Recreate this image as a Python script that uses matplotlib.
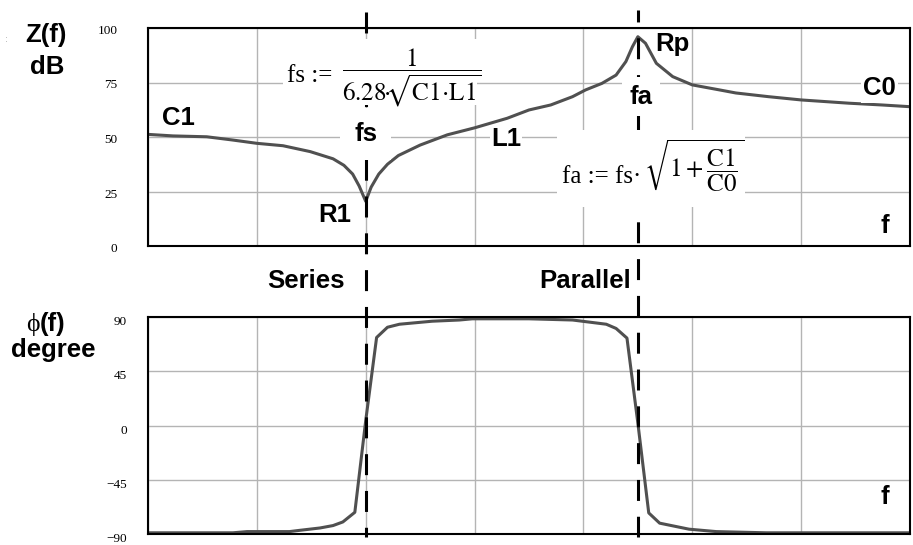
import matplotlib
matplotlib.use("Agg")
import matplotlib.pyplot as plt
from matplotlib.lines import Line2D
from matplotlib.patches import Rectangle
from matplotlib.transforms import blended_transform_factory, ScaledTranslation

# Quartz crystal impedance: magnitude (dB) and phase (degree) versus frequency
freq_mag = [0, 0.23, 0.54, 0.78, 1.0, 1.24, 1.49, 1.70, 1.80, 1.88, 1.94, 2.0,
            2.05, 2.12, 2.2, 2.3, 2.5, 2.75, 3.0, 3.3, 3.5, 3.7, 3.9, 4.02,
            4.17, 4.3, 4.39, 4.45, 4.5, 4.57, 4.67, 4.82, 5.0, 5.25, 5.4, 5.7,
            6.0, 6.44, 6.74, 7.0]
mag_db = [51.2, 50.5, 50.1, 48.6, 47.1, 46.0, 43.3, 40.0, 37.0, 33.0, 27.5, 20.5,
          27.0, 33.0, 37.5, 41.5, 46.3, 51.0, 54.2, 58.6, 62.4, 64.7, 68.5, 71.6,
          74.6, 78.4, 84.6, 91.4, 96.0, 93.0, 83.8, 77.7, 73.9, 71.6, 70.2, 68.5,
          67.0, 65.5, 64.7, 63.9]

freq_ph = [0, 0.78, 0.91, 1.30, 1.39, 1.58, 1.70, 1.79, 1.90, 2.0, 2.10, 2.20,
           2.31, 2.61, 2.86, 2.98, 3.50, 3.90, 4.21, 4.30, 4.40, 4.50, 4.60,
           4.70, 4.97, 5.22, 5.68, 7.0]
phase_deg = [-89, -89, -88, -88, -87, -85, -83, -80, -72, 4, 73, 81.5,
             84, 86.5, 87.5, 88.5, 88.5, 87.5, 84, 80.5, 72.5, 2, -72.5,
             -81, -86, -88, -89, -89]

fs_x = 2.0
fa_x = 4.5

mag_ticks = [0, 25, 50, 75, 100]
mag_labels = ["0", "25", "50", "75", "100"]
ph_ticks = [-90, -45, 0, 45, 90]
ph_labels = ["\u221290", "\u221245", "0", "45", "90"]

plt.rcParams["lines.scale_dashes"] = False
plt.rcParams["mathtext.fontset"] = "stix"

W, H = 913, 545
fig = plt.figure(figsize=(W / 100, H / 100), dpi=100)
fig.patch.set_facecolor("white")


def fx(px):
    return px / W


def fy(py):
    return 1 - py / H


ax1 = fig.add_axes([fx(148), fy(246), (910 - 148) / W, (246 - 28) / H], zorder=2)
ax2 = fig.add_axes([fx(148), fy(534), (910 - 148) / W, (534 - 317) / H], zorder=1)

CURVE = "#505050"
GRID = "#b4b4b4"
serif = ["Liberation Serif", "DejaVu Serif"]
sans = ["Liberation Sans", "DejaVu Sans"]
BOLD = 18.5
MATH = 18

for ax in (ax1, ax2):
    ax.set_xlim(0, 7)
    ax.set_xticks(range(8))
    ax.set_xticklabels([])
    ax.grid(True, color=GRID, lw=1.0)
    ax.set_axisbelow(True)
    ax.tick_params(length=0)
    for sp in ax.spines.values():
        sp.set_linewidth(1.5)
        sp.set_color("black")

ax1.set_ylim(0, 100)
ax1.set_yticks(mag_ticks)
ax1.set_yticklabels(mag_labels, family=serif, fontsize=9.5)
ax1.tick_params(axis="y", pad=22)
for lab in ax1.get_yticklabels():
    lab.set_transform(lab.get_transform() + ScaledTranslation(0, -1.5 / 100, fig.dpi_scale_trans))

ax2.set_ylim(-90, 90)
ax2.set_yticks(ph_ticks)
ax2.set_yticklabels(ph_labels, family=serif, fontsize=9.5)
ax2.tick_params(axis="y", pad=15)
for lab in ax2.get_yticklabels():
    lab.set_transform(lab.get_transform() + ScaledTranslation(0, -3.5 / 100, fig.dpi_scale_trans))

ax1.plot(freq_mag, mag_db, color=CURVE, lw=2.2, zorder=2)
ax2.plot(freq_ph, phase_deg, color=CURVE, lw=2.2, zorder=2)

# Resonance markers spanning both plots
trans = blended_transform_factory(ax1.transData, fig.transFigure)
for xv, ytop, off in [(fs_x, 12, 0.0), (fa_x, 10, 6.5)]:
    ln = Line2D([xv, xv], [fy(ytop), fy(537)], transform=trans, color="black",
                lw=2.2, linestyle=(off, (15.1, 11.4)), zorder=3)
    ln.set_clip_on(False)
    ax1.add_artist(ln)


def wbox(pad):
    return dict(facecolor="white", edgecolor="none", boxstyle=f"square,pad={pad}")


def blabel(ax, x, y, s, box=None):
    t = ax.text(x, y, s, ha="center", va="center", fontsize=BOLD,
                fontweight="bold", family=sans, zorder=5)
    if box is not None:
        t.set_bbox(box)
    return t


blabel(ax1, 0.28, 58.7, "C1")
blabel(ax1, fs_x, 51.4, "fs", box=wbox(0.55))
blabel(ax1, 1.72, 14.2, "R1")
blabel(ax1, 3.29, 49.0, "L1", box=wbox(0.04))
blabel(ax1, 4.82, 92.7, "Rp")
blabel(ax1, 4.53, 68.5, "fa", box=wbox(0.3))
blabel(ax1, 6.72, 72.5, "C0", box=wbox(0.1))
blabel(ax1, 6.77, 9.2, "f")
blabel(ax2, 6.77, -59.3, "f")

# Formula regions: white backing, definition text, then the math part
ax1.add_patch(Rectangle((1.24, 64.5), 1.78, 30.5, facecolor="white",
                        edgecolor="none", zorder=4))
ax1.text(1.275, 75.2, "fs :=", ha="left", va="baseline", fontsize=MATH,
         family=serif, zorder=5)
ax1.text(1.78, 78.0,
         r"$\dfrac{1}{6.28\!\!\cdot\!\!\!\sqrt{\mathrm{C1}\!\cdot\!\mathrm{L1}}}$",
         ha="left", va="baseline", fontsize=MATH, zorder=5)

ax1.add_patch(Rectangle((3.76, 17.9), 1.72, 35.3, facecolor="white",
                        edgecolor="none", zorder=4))
ax1.text(3.807, 28.9, "fa := fs\u00b7", ha="left", va="baseline",
         fontsize=MATH, family=serif, zorder=5)
ax1.text(4.56, 31.5, r"$\sqrt{1+\dfrac{\mathrm{C1}}{\mathrm{C0}}}$",
         ha="left", va="baseline", fontsize=MATH, zorder=5)

# Axis titles and region names
fig.text(fx(46), fy(35), "Z(f)", ha="center", va="center", fontsize=BOLD,
         fontweight="bold", family=sans)
fig.text(fx(47), fy(67), "dB", ha="center", va="center", fontsize=BOLD,
         fontweight="bold", family=sans)
fig.text(fx(6), fy(40), ":", ha="center", va="center", fontsize=6, color="#999999")

fig.text(fx(40), fy(324), "\u03d5", ha="right", va="center", fontsize=BOLD,
         family=serif)
fig.text(fx(40), fy(324), "(f)", ha="left", va="center", fontsize=BOLD,
         fontweight="bold", family=sans)
fig.text(fx(53.5), fy(350), "degree", ha="center", va="center", fontsize=BOLD,
         fontweight="bold", family=sans)

fig.text(fx(306), fy(281), "Series", ha="center", va="center", fontsize=BOLD,
         fontweight="bold", family=sans)
fig.text(fx(585), fy(281), "Parallel", ha="center", va="center", fontsize=BOLD,
         fontweight="bold", family=sans)

fig.savefig("out.png", dpi=100, facecolor="white")
